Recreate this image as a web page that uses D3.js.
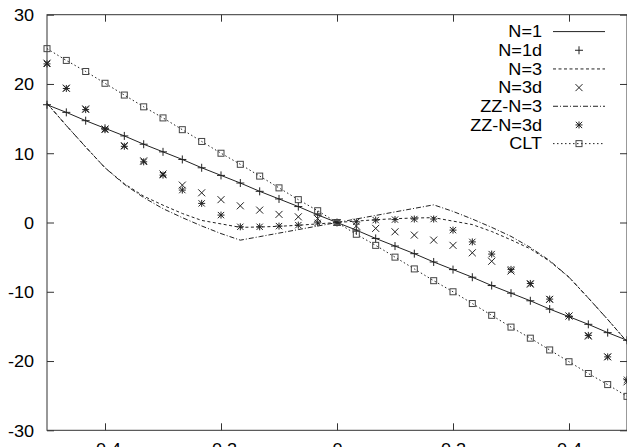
<!DOCTYPE html>
<html><head><meta charset="utf-8">
<script src="https://cdn.jsdelivr.net/npm/d3@7"></script>
<style>
html,body{margin:0;padding:0;background:#fff;}
svg{display:block;}
text{font-family:"Liberation Sans",Arial,Helvetica,sans-serif;font-size:16px;fill:#000;}
</style></head>
<body>
<svg id="chart" width="627" height="447"></svg>
<script>
// ---- data ----
const xValues = [-0.5000,-0.4667,-0.4333,-0.4000,-0.3667,-0.3333,-0.3000,-0.2667,-0.2333,-0.2000,
  -0.1667,-0.1333,-0.1000,-0.0667,-0.0333,0,0.0333,0.0667,0.1000,0.1333,
  0.1667,0.2000,0.2333,0.2667,0.3000,0.3333,0.3667,0.4000,0.4333,0.4667,0.5000];
const n1 = [17.0,15.9,14.7,13.6,12.5,11.3,10.2,9.1,7.9,6.8,5.7,4.5,3.4,2.3,1.1,0,
  -1.1,-2.3,-3.4,-4.5,-5.7,-6.8,-7.9,-9.1,-10.2,-11.3,-12.5,-13.6,-14.7,-15.9,-17.0];
const n1d = [17.0,15.9,14.7,13.6,12.5,11.3,10.2,9.1,7.9,6.8,5.7,4.5,3.4,2.3,1.1,0,
  -1.1,-2.3,-3.4,-4.5,-5.7,-6.8,-7.9,-9.1,-10.2,-11.3,-12.5,-13.6,-14.7,-15.9,-17.0];
const n3 = [17.2,14.0,10.9,7.9,5.6,3.8,2.5,1.3,0.3,-0.2,-0.7,-0.65,-0.55,-0.4,-0.2,0,
  0.2,0.4,0.55,0.65,0.7,0.2,-0.3,-1.3,-2.5,-3.8,-5.6,-7.9,-10.9,-14.0,-17.2];
const n3d = [23.0,19.4,16.4,13.5,11.1,8.9,7.0,5.4,4.29,3.3,2.41,1.79,1.17,0.82,0.55,0,
  -0.5,-0.85,-1.34,-1.82,-2.54,-3.3,-4.37,-5.6,-7.0,-8.9,-11.1,-13.5,-16.4,-19.4,-23.0];
const zz3 = [17.2,14.0,10.9,7.9,5.5,3.6,2.0,0.7,-0.5,-1.6,-2.55,-2.04,-1.53,-1.02,-0.51,0,
  0.51,1.02,1.53,2.04,2.55,1.6,0.5,-0.7,-2.0,-3.6,-5.5,-7.9,-10.9,-14.0,-17.2];
const zz3d = [22.9,19.35,16.3,13.4,11.0,8.76,6.84,4.68,2.76,1.07,-0.62,-0.62,-0.52,-0.38,-0.05,0,
  0.1,0.35,0.42,0.5,0.5,-1.1,-2.8,-4.56,-6.77,-8.8,-11.06,-13.5,-16.3,-19.4,-22.7];
const clt = [25.1,23.4,21.8,20.1,18.4,16.7,15.1,13.4,11.7,10.0,8.4,6.7,5.0,3.3,1.7,0,
  -1.7,-3.3,-5.0,-6.7,-8.4,-10.0,-11.7,-13.4,-15.1,-16.7,-18.4,-20.1,-21.8,-23.4,-25.1];
const xTicks = [-0.4,-0.2,0,0.2,0.4];
const xTickLabels = ["-0.4","-0.2","0","0.2","0.4"];
const yTicks = [-30,-20,-10,0,10,20,30];
const yTickLabels = ["-30","-20","-10","0","10","20","30"];
const legendLabels = ["N=1","N=1d","N=3","N=3d","ZZ-N=3","ZZ-N=3d","CLT"];

// ---- layout ----
const L = 47, R = 627, T = 14.7, B = 430.3;
const SX = 1.13; // horizontal stretch of glyphs
const svg = d3.select("#chart");
const x = d3.scaleLinear().domain([-0.5,0.5]).range([L,R]);
const y = d3.scaleLinear().domain([-30,30]).range([B,T]);
const axisColor = "#333";

function styleAxis(g){
  g.select(".domain").remove();
  g.selectAll(".tick line").attr("stroke",axisColor).attr("stroke-width",1);
}
// left
svg.append("g").attr("transform",`translate(${L},0)`)
  .call(d3.axisLeft(y).tickValues(yTicks).tickFormat((d,i)=>yTickLabels[i]).tickSizeInner(-7).tickSizeOuter(0).tickPadding(13))
  .call(styleAxis)
  .call(g=>g.selectAll(".tick text").attr("x",-13/SX).attr("dy","0.36em").attr("transform",`scale(${SX},1)`)
     .style("font-size","16px").attr("fill","#000"));
// right
svg.append("g").attr("transform",`translate(${R},0)`)
  .call(d3.axisRight(y).tickValues(yTicks).tickFormat("").tickSizeInner(-7).tickSizeOuter(0))
  .call(styleAxis);
// bottom
svg.append("g").attr("transform",`translate(0,${B})`)
  .call(d3.axisBottom(x).tickValues(xTicks).tickFormat((d,i)=>xTickLabels[i]).tickSizeInner(-7).tickSizeOuter(0).tickPadding(13))
  .call(styleAxis)
  .call(g=>g.selectAll(".tick text").each(function(){
     const t=d3.select(this); t.attr("transform",`scale(${SX},1)`);
  }).style("font-size","16px").attr("fill","#000"));
// fix bottom label positions under scale (tick group translate handles x)
// top
svg.append("g").attr("transform",`translate(0,${T})`)
  .call(d3.axisTop(x).tickValues(xTicks).tickFormat("").tickSizeInner(-7).tickSizeOuter(0))
  .call(styleAxis);
// border
svg.append("rect").attr("x",L).attr("y",T).attr("width",R-L).attr("height",B-T)
  .attr("fill","none").attr("stroke",axisColor).attr("stroke-width",1);

// ---- lines ----
const plot = svg.append("g");
function drawLine(vals, dash){
  const line = d3.line().x((d,i)=>x(xValues[i])).y(d=>y(d));
  plot.append("path").datum(vals).attr("d",line).attr("fill","none")
    .attr("stroke","#222").attr("stroke-width",1)
    .attr("stroke-dasharray",dash||null);
}
const dashN3 = "3,2.5", dashZZ = "5,2,1,2", dashCLT = "1.5,2.5";
drawLine(n1, null);
drawLine(n3, dashN3);
drawLine(zz3, dashZZ);
drawLine(clt, dashCLT);

// ---- markers ----
function plus(g,cx,cy,s){ g.append("path").attr("d",`M${cx-s},${cy}H${cx+s}M${cx},${cy-s}V${cy+s}`).attr("stroke","#222").attr("fill","none"); }
function cross(g,cx,cy,s){ g.append("path").attr("d",`M${cx-s},${cy-s}L${cx+s},${cy+s}M${cx-s},${cy+s}L${cx+s},${cy-s}`).attr("stroke","#222").attr("fill","none"); }
function star(g,cx,cy,s){ plus(g,cx,cy,s); cross(g,cx,cy,s*0.9); }
function box(g,cx,cy,s){ g.append("rect").attr("x",cx-s).attr("y",cy-s).attr("width",2*s).attr("height",2*s).attr("fill","none").attr("stroke","#444"); }

const mk = svg.append("g");
n1d.forEach((v,i)=>plus(mk,x(xValues[i]),y(v),4));
n3d.forEach((v,i)=>cross(mk,x(xValues[i]),y(v),3.5));
zz3d.forEach((v,i)=>star(mk,x(xValues[i]),y(v),3.5));
clt.forEach((v,i)=>box(mk,x(xValues[i]),y(v),3));

// ---- legend ----
const lg = svg.append("g");
const legTextX = 542, lx1 = 553, lx2 = 605, lmid = 579;
legendLabels.forEach((lab,i)=>{
  const base = 37.3 + 18.67*i, cy = base - 5.7;
  lg.append("text").attr("x",legTextX/SX).attr("y",base).attr("text-anchor","end")
    .attr("transform",`scale(${SX},1)`).text(lab);
  const seg = (dash)=>lg.append("line").attr("x1",lx1).attr("x2",lx2).attr("y1",cy).attr("y2",cy)
     .attr("stroke","#222").attr("stroke-width",1).attr("stroke-dasharray",dash||null);
  if(i===0) seg(null);
  if(i===1) plus(lg,lmid,cy,4);
  if(i===2) seg(dashN3);
  if(i===3) cross(lg,lmid,cy,3.5);
  if(i===4) seg(dashZZ);
  if(i===5) star(lg,lmid,cy,3.5);
  if(i===6){ seg(dashCLT); box(lg,lmid,cy,3); }
});
</script>
</body></html>
